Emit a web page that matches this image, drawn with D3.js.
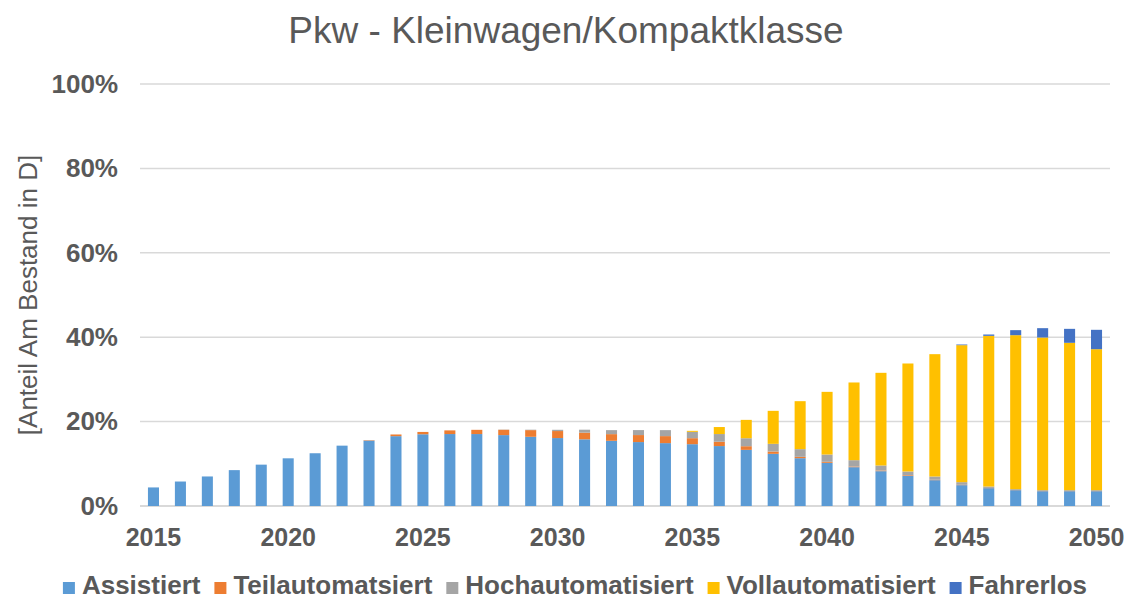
<!DOCTYPE html>
<html>
<head>
<meta charset="utf-8">
<script src="https://cdn.jsdelivr.net/npm/d3@7"></script>
<style>
  body { margin: 0; background: #fff; }
  svg text { font-family: "Liberation Sans", Arial, sans-serif; fill: #595959; }
</style>
</head>
<body>
<svg width="1133" height="600"></svg>
<script>
// data (percent of stock)
var years = d3.range(2015, 2051);
var assistiert = [4.4, 5.8, 7.0, 8.5, 9.8, 11.3, 12.5, 14.3, 15.5, 16.55, 17.0, 17.05,
    17.05, 16.8, 16.4, 16.1, 15.8, 15.45, 15.15, 14.9, 14.65, 14.2, 13.3, 12.36,
    11.33, 10.23, 9.2, 8.25, 7.15, 6.12, 4.94, 4.23, 3.75, 3.51, 3.51, 3.51];
var teilautomatsiert = [0, 0, 0, 0, 0, 0, 0, 0, 0.1, 0.4, 0.55, 0.87,
    1.0, 1.26, 1.58, 1.66, 1.58, 1.58, 1.66, 1.66, 1.42, 1.03, 0.87, 0.55,
    0.32, 0.24, 0.16, 0.16, 0.16, 0.1, 0.08, 0.05, 0.04, 0.04, 0.04, 0.04];
var hochautomatisiert = [0, 0, 0, 0, 0, 0, 0, 0, 0, 0, 0, 0,
    0, 0.05, 0.1, 0.3, 0.7, 0.95, 1.18, 1.42, 1.5, 1.82, 1.89, 1.82,
    1.82, 1.73, 1.5, 1.19, 0.87, 0.77, 0.63, 0.34, 0.2, 0.2, 0.2, 0.2];
var vollautomatisiert = [0, 0, 0, 0, 0, 0, 0, 0, 0, 0, 0, 0,
    0, 0, 0, 0, 0, 0, 0, 0, 0.24, 1.66, 4.35, 7.82,
    11.37, 14.85, 18.41, 21.96, 25.59, 28.99, 32.46, 35.7, 36.49, 36.18, 34.92, 33.41];
var fahrerlos = [0, 0, 0, 0, 0, 0, 0, 0, 0, 0, 0, 0,
    0, 0, 0, 0, 0, 0, 0, 0, 0, 0, 0, 0,
    0, 0, 0, 0, 0, 0, 0.16, 0.32, 1.19, 2.21, 3.31, 4.59];

var series_names = ["Assistiert", "Teilautomatsiert", "Hochautomatisiert", "Vollautomatisiert", "Fahrerlos"];
var series_colors = ["#5B9BD5", "#ED7D31", "#A5A5A5", "#FFC000", "#4472C4"];
var y_ticks = [0, 20, 40, 60, 80, 100];
var x_labels = [2015, 2020, 2025, 2030, 2035, 2040, 2045, 2050];

var svg = d3.select("svg");

// build rows for d3.stack
var table = years.map(function (yr, i) {
    return {
        year: yr,
        Assistiert: assistiert[i],
        Teilautomatsiert: teilautomatsiert[i],
        Hochautomatisiert: hochautomatisiert[i],
        Vollautomatisiert: vollautomatisiert[i],
        Fahrerlos: fahrerlos[i]
    };
});

var x_scale = d3.scaleBand()
    .domain(years)
    .range([140, 1110])
    .paddingInner(0.59)
    .paddingOuter(0.295);

var y_scale = d3.scaleLinear()
    .domain([0, 100])
    .range([506, 84]);

var color = d3.scaleOrdinal().domain(series_names).range(series_colors);

// gridlines
svg.append("g")
    .selectAll("line")
    .data(y_ticks)
    .enter()
    .append("line")
    .attr("x1", 140)
    .attr("x2", 1110)
    .attr("y1", function (d) { return y_scale(d); })
    .attr("y2", function (d) { return y_scale(d); })
    .attr("stroke", "#D9D9D9")
    .attr("stroke-width", function (d) { return d == 0 ? 2 : 1.5; });

// y axis labels
var y_axis = d3.axisLeft(y_scale)
    .tickValues(y_ticks)
    .tickSize(0)
    .tickPadding(22)
    .tickFormat(function (d) { return d + "%"; });

svg.append("g")
    .attr("transform", "translate(140,0)")
    .call(y_axis)
    .call(function (g) { g.select(".domain").remove(); })
    .selectAll("text")
    .style("font-size", "26px")
    .style("font-weight", "bold")
    .attr("fill", "#595959");

// bars
var stack = d3.stack().keys(series_names);
var layers = stack(table);

svg.append("g")
    .selectAll("g")
    .data(layers)
    .enter()
    .append("g")
    .attr("fill", function (d) { return color(d.key); })
    .selectAll("rect")
    .data(function (d) { return d.filter(function (p) { return p[1] - p[0] > 0; }); })
    .enter()
    .append("rect")
    .attr("x", function (d) { return x_scale(d.data.year); })
    .attr("width", x_scale.bandwidth())
    .attr("y", function (d) { return y_scale(d[1]); })
    .attr("height", function (d) { return y_scale(d[0]) - y_scale(d[1]); });

// x axis labels
var x_axis = d3.axisBottom(x_scale)
    .tickValues(x_labels)
    .tickSize(0)
    .tickPadding(22);

svg.append("g")
    .attr("transform", "translate(0,506)")
    .call(x_axis)
    .call(function (g) { g.select(".domain").remove(); })
    .selectAll("text")
    .style("font-size", "25px")
    .style("font-weight", "bold")
    .attr("fill", "#595959");

// title
svg.append("text")
    .attr("x", 566)
    .attr("y", 43)
    .attr("text-anchor", "middle")
    .style("font-size", "37px")
    .text("Pkw - Kleinwagen/Kompaktklasse");

// y axis title
svg.append("text")
    .attr("transform", "translate(37,295) rotate(-90)")
    .attr("text-anchor", "middle")
    .style("font-size", "26px")
    .text("[Anteil Am Bestand in D]");

// legend
var legend = svg.append("g");
var lx = 0;
series_names.forEach(function (name) {
    var item = legend.append("g").attr("transform", "translate(" + lx + ",0)");
    item.append("rect")
        .attr("x", 0)
        .attr("y", -12)
        .attr("width", 12)
        .attr("height", 12)
        .attr("fill", color(name));
    var t = item.append("text")
        .attr("x", 19)
        .attr("y", 0)
        .style("font-size", "26px")
        .style("font-weight", "bold")
        .text(name);
    lx += 19 + t.node().getComputedTextLength() + 14;
});
var legend_width = lx - 14;
legend.attr("transform", "translate(" + (575 - legend_width / 2) + ",594)");
</script>
</body>
</html>
